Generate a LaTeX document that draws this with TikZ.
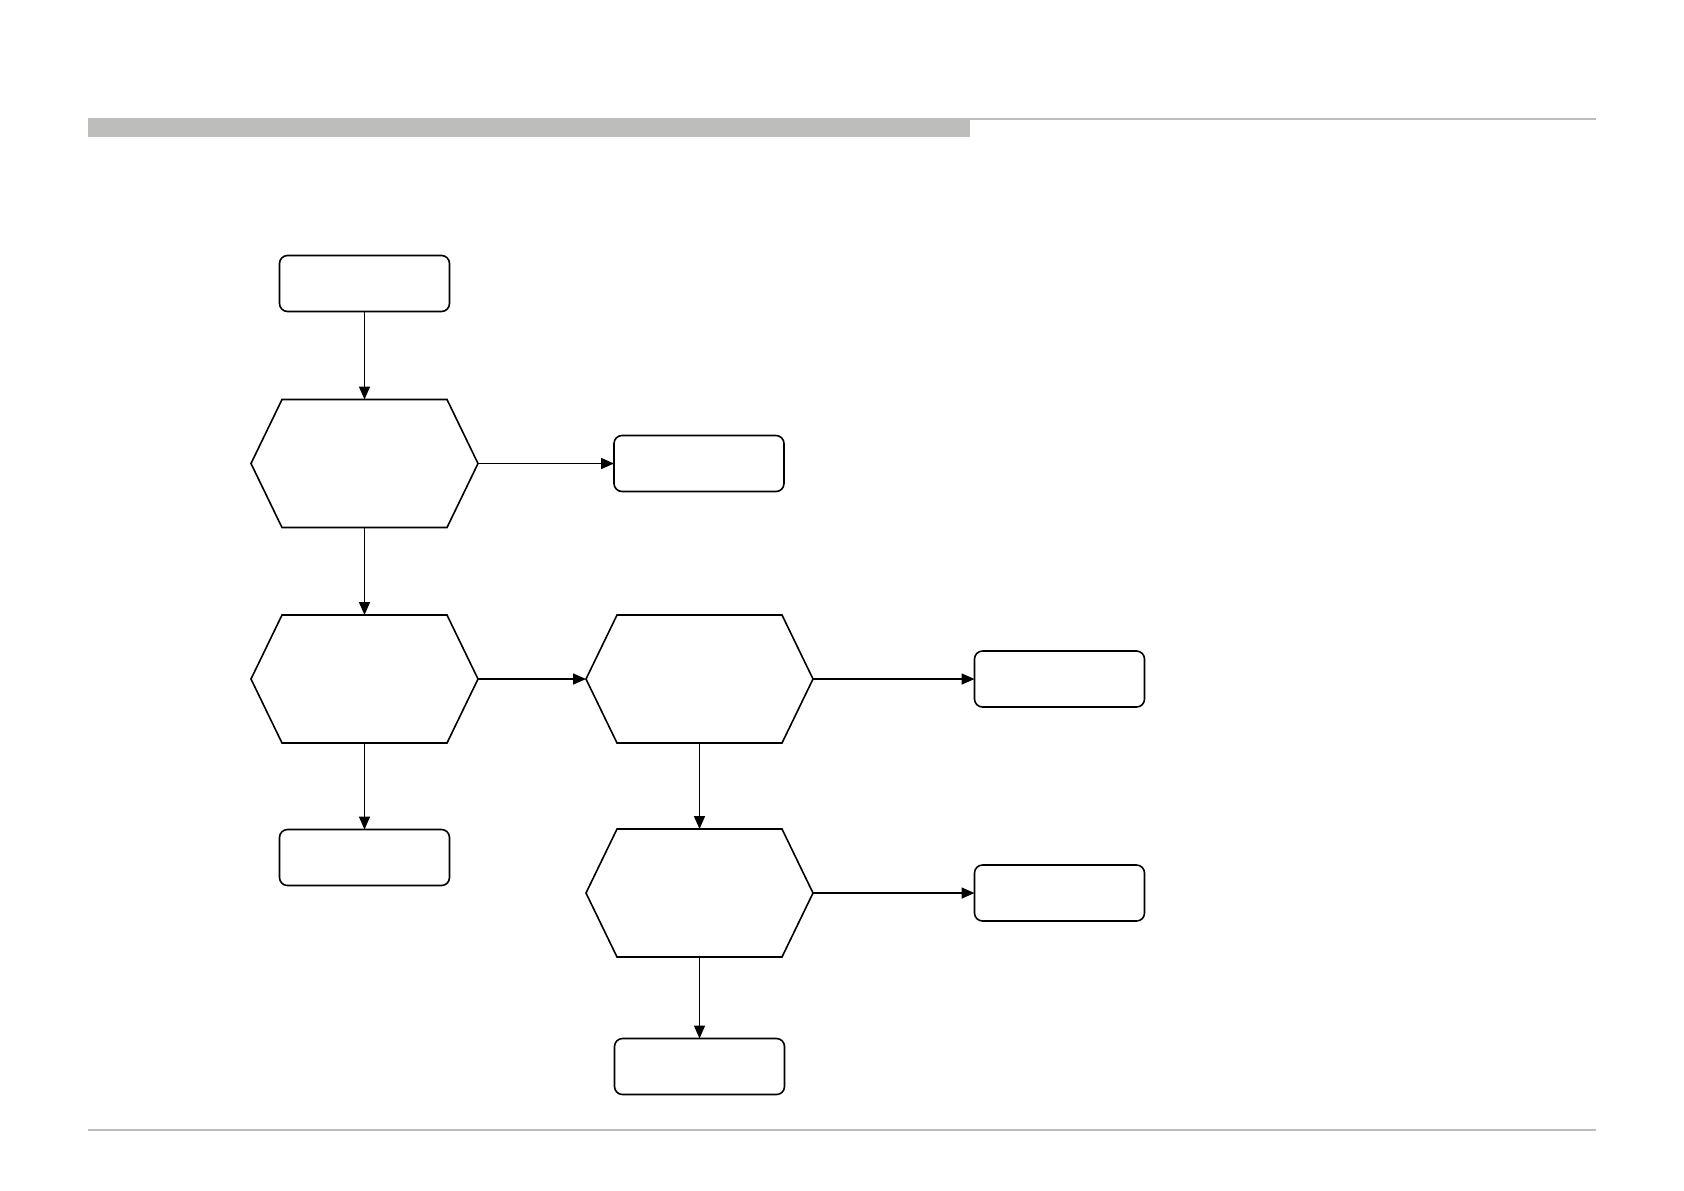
\documentclass[tikz,border=0pt]{standalone}
\usetikzlibrary{arrows.meta,calc}
\definecolor{hdrgray}{RGB}{189,189,187}
\begin{document}
\begin{tikzpicture}[x=0.5pt,y=-0.5pt,
  line width=0.8pt,
  boxnode/.style={draw, rounded corners=4pt, minimum width=85pt, minimum height=28pt, inner sep=0pt, outer sep=0pt},
  hexnode/.style={draw=none, minimum width=113.5pt, minimum height=64pt, inner sep=0pt, outer sep=0pt},
  conn/.style={-{Triangle[length=6.5pt,width=5.5pt]}}]
\useasboundingbox (0,0) rectangle (1684,1190);
% header and footer rules
\fill[hdrgray] (88,118) rectangle (970,137);
\draw[hdrgray, line width=1pt] (970,119) -- (1596,119);
\draw[hdrgray, line width=0.8pt] (88,1130) -- (1596,1130);
% nodes
\node[boxnode] (b1) at (364.5,283.5) {};
\node[hexnode] (h1) at (364.5,463.5) {};
\node[boxnode] (b2) at (699,463.5) {};
\node[hexnode] (h2) at (364.5,679) {};
\node[hexnode] (h3) at (699.5,679) {};
\node[boxnode] (b3) at (1059.5,679) {};
\node[boxnode] (b4) at (364.5,857.5) {};
\node[hexnode] (h4) at (699.5,893) {};
\node[boxnode] (b5) at (1059.5,893) {};
\node[boxnode] (b6) at (699.5,1066.5) {};
\foreach \n in {h1,h2,h3,h4}
  \draw ($(\n.north west)+(15.5pt,0)$) -- ($(\n.north east)+(-15.5pt,0)$) -- (\n.east)
     -- ($(\n.south east)+(-15.5pt,0)$) -- ($(\n.south west)+(15.5pt,0)$) -- (\n.west) -- cycle;
% connectors
\draw[conn] (b1.south) -- (h1.north);
\draw[conn] (h1.east) -- (b2.west);
\draw[conn] (h1.south) -- (h2.north);
\draw[conn] (h2.east) -- (h3.west);
\draw[conn] (h2.south) -- (b4.north);
\draw[conn] (h3.east) -- (b3.west);
\draw[conn] (h3.south) -- (h4.north);
\draw[conn] (h4.east) -- (b5.west);
\draw[conn] (h4.south) -- (b6.north);
\end{tikzpicture}
\end{document}
